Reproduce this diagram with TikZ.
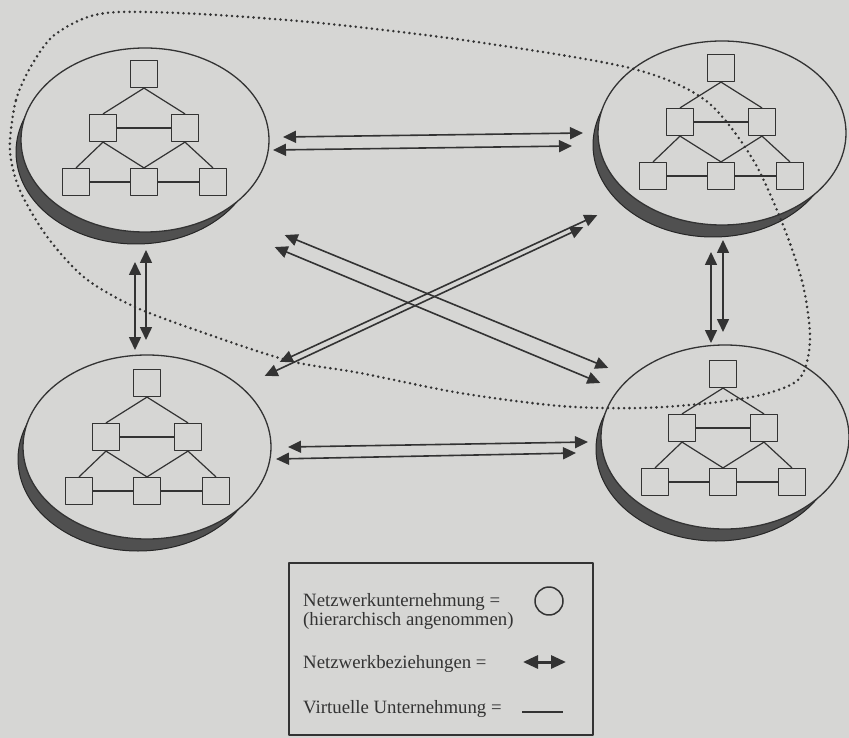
\documentclass[tikz,border=0pt]{standalone}
\usepackage{fontspec}
\setmainfont{Liberation Serif}
\usepackage{xcolor}
\usetikzlibrary{arrows.meta,shapes.geometric}
\definecolor{paper}{HTML}{D6D6D4}
\definecolor{ink}{HTML}{333333}
\definecolor{shadowink}{HTML}{505050}

\tikzset{
  firm/.style={ellipse,draw=ink,line width=1.3pt,fill=paper,inner sep=0pt,
    outer sep=0pt,minimum width=248pt,minimum height=184pt},
  unit/.style={draw=ink,line width=1.2pt,fill=paper,inner sep=0pt,minimum size=27pt},
  link/.style={draw=ink,line width=1.2pt},
  rel/.style={draw=ink,line width=1.6pt,
    {Triangle[length=13pt,width=12pt]}-{Triangle[length=13pt,width=12pt]}},
  virtual/.style={draw=ink,line width=2.8pt,line cap=round,dash pattern=on 0pt off 5.4pt},
  legtext/.style={anchor=base west,inner sep=0pt,text=ink,
    font=\fontsize{18.8}{20}\selectfont}
}

\begin{document}
\begin{tikzpicture}[x=1pt,y=-1pt,line join=round]
  \useasboundingbox (0,0) rectangle (849,738);
  \fill[paper] (0,0) rectangle (849,738);

  % firms with their shadow
  \foreach \n/\x/\y in {tl/145/140,tr/722/133,bl/147/447,br/725/437}{
    \fill[shadowink,draw=black!85,line width=1pt] (\x-9,\y+12)
      ellipse [x radius=120pt,y radius=92pt];
    \node[firm] (\n) at (\x,\y) {};
  }

  % hierarchy inside each firm
  \foreach \n/\x/\y in {tl/144/74,tr/721/68,bl/147/383,br/723/374}{
    \node[unit] (\n1) at (\x,\y) {};
    \node[unit] (\n2) at (\x-41,\y+54) {};
    \node[unit] (\n3) at (\x+41,\y+54) {};
    \node[unit] (\n4) at (\x-68,\y+108) {};
    \node[unit] (\n5) at (\x,\y+108) {};
    \node[unit] (\n6) at (\x+69,\y+108) {};
    \draw[link] (\n1.south) -- (\n2.north);
    \draw[link] (\n1.south) -- (\n3.north);
    \draw[link] (\n2.south) -- (\n4.north);
    \draw[link] (\n2.south) -- (\n5.north);
    \draw[link] (\n3.south) -- (\n5.north);
    \draw[link] (\n3.south) -- (\n6.north);
    \draw[link] (\n2) -- (\n3);
    \draw[link] (\n4) -- (\n5) -- (\n6);
  }

  % network relations
  \draw[rel] ([shift={(14,-3)}]tl.east) -- ([shift={(-15,0)}]tr.west);
  \draw[rel] ([shift={(4,10)}]tl.east) -- ([shift={(-26,13)}]tr.west);
  \draw[rel] ([shift={(17,0)}]bl.east) -- ([shift={(-13,5)}]br.west);
  \draw[rel] ([shift={(5,12)}]bl.east) -- ([shift={(-25,16)}]br.west);
  \draw[rel] ([shift={(-10,30)}]tl.south) -- ([shift={(-12,-5)}]bl.north);
  \draw[rel] ([shift={(1,18)}]tl.south) -- ([shift={(-1,-15)}]bl.north);
  \draw[rel] ([shift={(-11,27)}]tr.south) -- ([shift={(-14,-2)}]br.north);
  \draw[rel] ([shift={(1,15)}]tr.south) -- ([shift={(-2,-13)}]br.north);
  \draw[rel] ([shift={(52,30)}]tl.south east) -- ([shift={(-29,-4)}]br.north west);
  \draw[rel] ([shift={(42,42)}]tl.south east) -- ([shift={(-37,11)}]br.north west);
  \draw[rel] ([shift={(-37,17)}]tr.south west) -- ([shift={(45,-20)}]bl.north east);
  \draw[rel] ([shift={(-51,29)}]tr.south west) -- ([shift={(30,-6)}]bl.north east);

  % virtual enterprise
  \draw[virtual] plot[smooth cycle] coordinates {
    (10,140) (16,100) (30,68) (52,37) (85,18) (120,12) (200,14) (320,23)
    (470,41) (630,68) (705,100) (752,158) (783,225) (803,285) (810,340)
    (800,378) (765,394) (710,403) (640,408) (560,406) (460,393) (360,373)
    (290,361) (210,335) (135,307) (85,278) (48,238) (22,195) (12,165)};

  % legend
  \node[draw=ink,line width=1.3pt,fill=paper,inner sep=0pt,
    minimum width=304pt,minimum height=172pt] (legend) at (441,649) {};
  \node[legtext] (lfirm) at (303,606) {Netzwerkunternehmung =};
  \node[legtext] (lhier) at (303,625) {(hierarchisch angenommen)};
  \node[legtext] (lrel) at (303,668) {Netzwerkbeziehungen =};
  \node[legtext] (lvirt) at (303,713) {Virtuelle Unternehmung =};
  \node[circle,draw=ink,line width=1.5pt,minimum size=28pt,inner sep=0pt]
    (lcirc) at (549,601) {};
  \coordinate (lrelA) at (523,662);
  \coordinate (lrelB) at (566,662);
  \draw[draw=ink,line width=3pt,
    {Triangle[length=15pt,width=13pt]}-{Triangle[length=15pt,width=13pt]}]
    (lrelA) -- (lrelB);
  \coordinate (lvirtA) at (522,712);
  \coordinate (lvirtB) at (563,712);
  \draw[ink,line width=1.2pt] (lvirtA) -- (lvirtB);
\end{tikzpicture}
\end{document}
